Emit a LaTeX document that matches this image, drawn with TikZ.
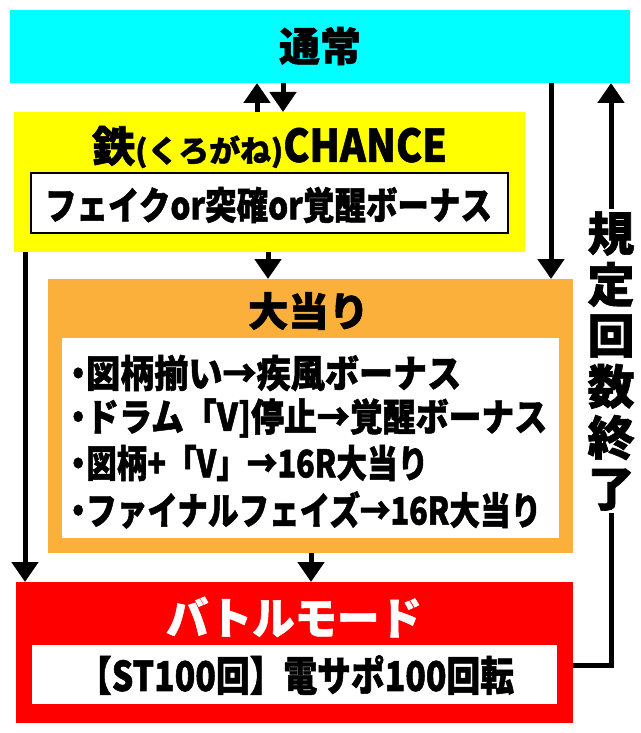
\documentclass[tikz,border=0pt]{standalone}
\usepackage{fontspec}
\usetikzlibrary{arrows.meta}
\newfontfamily\jp{Noto Sans CJK JP}[BoldFeatures={FakeBold=1.3}]
\newfontfamily\jpc{Noto Sans CJK JP}[FakeStretch=0.85,BoldFeatures={FakeBold=1.3}]
\newcommand\fitw[2]{\resizebox{#1}{\height}{#2}}
\newcommand\bul{\makebox[16pt][c]{・}}
\definecolor{cyanbox}{HTML}{00FFFF}
\definecolor{yellowbox}{HTML}{FFFF00}
\definecolor{orangebox}{HTML}{FBB03B}
\definecolor{redbox}{HTML}{FF0000}
\begin{document}
\begin{tikzpicture}[x=1pt,y=-1pt,
  box/.style={draw=none,inner sep=0pt,outer sep=0pt},
  arr/.style={line width=5pt,-{Triangle[width=26pt,length=20pt]}},
  ttl/.style={inner sep=0pt,font=\jp\bfseries\fontsize{40}{44}\selectfont},
  item/.style={anchor=west,inner sep=0pt,font=\jpc\bfseries\fontsize{38}{40}\selectfont}]
\useasboundingbox[fill=white] (0,0) rectangle (640,733);
% boxes
\node[box,fill=cyanbox,minimum width=620pt,minimum height=73pt] (cyan) at (320,46.5) {};
\node[ttl] (cyant) at (320,46) {\fitw{82pt}{通常}};
\node[box,fill=yellowbox,minimum width=511pt,minimum height=140pt] (yel) at (269.5,182) {};
\node[inner sep=0pt,font=\jp\bfseries] (yelt) at (269.5,147)
  {\fitw{355pt}{{\fontsize{42}{42}\selectfont 鉄}{\fontsize{30}{30}\selectfont (くろがね)}{\jpc\fontsize{45}{44}\selectfont CHANCE}}};
\node[box,fill=white,draw=black,line width=2.5pt,minimum width=477pt,minimum height=60pt] (yelw) at (269.5,203) {};
\node[inner sep=0pt,font=\jpc\bfseries\fontsize{38}{40}\selectfont] (yelwt) at (268.5,205) {\fitw{447pt}{フェイクor突確or覚醒ボーナス}};
\node[box,fill=orangebox,minimum width=525pt,minimum height=274pt] (ora) at (310.5,416) {};
\node[ttl] (orat) at (308.5,311) {\fitw{121pt}{大当り}};
\node[box,fill=white,minimum width=497pt,minimum height=200pt] (oraw) at (310.5,438) {};
\node[item] (i1) at (70,373) {\bul\fitw{375pt}{図柄揃い→疾風ボーナス}};
\node[item] (i2) at (70,418) {\bul\fitw{461pt}{ドラム「V]停止→覚醒ボーナス}};
\node[item] (i3) at (70,463) {\bul\fitw{342pt}{図柄+「V」→16R大当り}};
\node[item] (i4) at (70,510) {\bul\fitw{455pt}{ファイナルフェイズ→16R大当り}};
\node[box,fill=redbox,minimum width=557pt,minimum height=141pt] (red) at (294.5,652.5) {};
\node[inner sep=0pt,text=white,font=\jp\bfseries\fontsize{44}{46}\selectfont] (redt) at (294,617) {\fitw{256pt}{バトルモード}};
\node[box,fill=white,minimum width=525pt,minimum height=59pt] (redw) at (294.5,674.5) {};
\node[inner sep=0pt,font=\jpc\bfseries\fontsize{41}{44}\selectfont] (redwt) at (296,675) {\fitw{436pt}{【ST100回】電サポ100回転}};
% connector columns
\coordinate (xu) at (257,0);
\coordinate (xd) at (283,0);
\coordinate (xr) at (551,0);
\coordinate (xm) at (268,0);
\coordinate (xl) at (25,0);
\coordinate (xb) at (311,0);
\coordinate (ret) at (611,665);
\draw[arr] (yel.north -| xu) -- (cyan.south -| xu);
\draw[arr] (cyan.south -| xd) -- (yel.north -| xd);
\draw[arr] (cyan.south -| xr) -- (ora.north -| xr);
\draw[arr] (yel.south -| xm) -- (ora.north -| xm);
\draw[arr] (yel.south -| xl) -- (red.north -| xl);
\draw[arr] (ora.south -| xb) -- (red.north -| xb);
\draw[arr] (red.east |- ret) -- (ret) -- (cyan.south -| ret);
\node[fill=white,inner sep=2pt,align=center,font=\jp\bfseries\fontsize{47}{51}\selectfont] (lbl) at (611,361)
  {規\\定\\回\\数\\終\\了};
\end{tikzpicture}
\end{document}
